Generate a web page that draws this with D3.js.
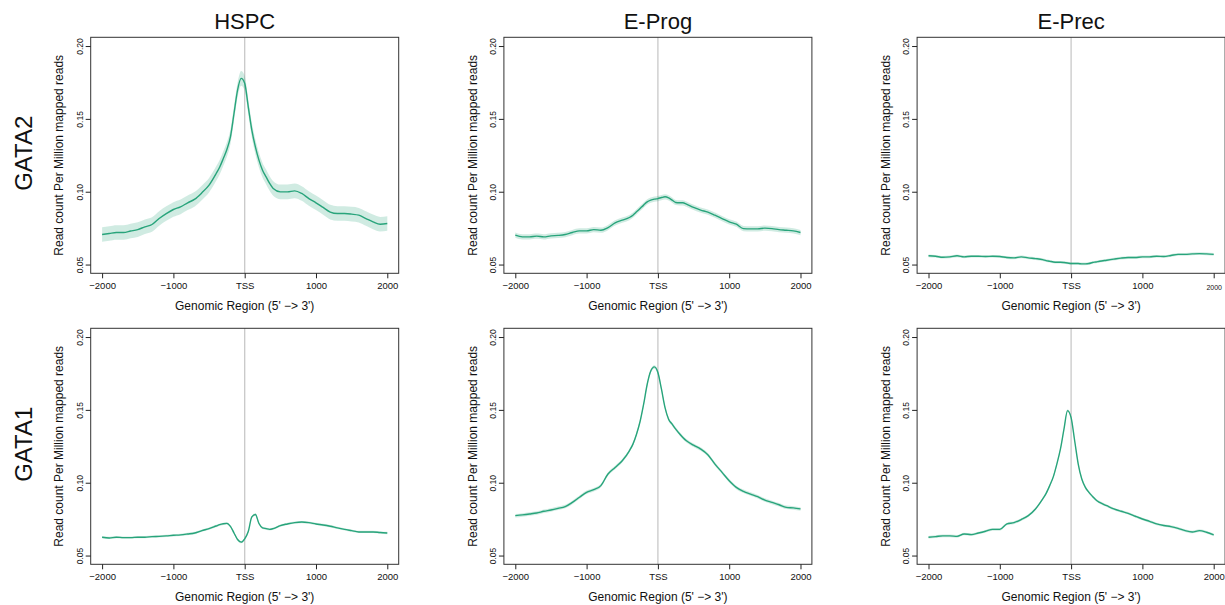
<!DOCTYPE html>
<html>
<head>
<meta charset="utf-8">
<script src="https://cdn.jsdelivr.net/npm/d3@7"></script>
<style>
	body { margin: 0; background: #fff; }
	text { font-family: "Liberation Sans", Arial, Helvetica, sans-serif; fill: #111; }
</style>
</head>
<body>
<svg width="1225" height="605"></svg>
<script>
// positions relative to the TSS (bp)
var positions = [-2000,-1900,-1800,-1700,-1600,-1500,-1400,-1300,-1200,-1100,-1000,-900,-800,-700,-600,-500,
	-400,-350,-300,-250,-200,-150,-100,-50,0,50,100,150,200,250,300,350,400,
	500,600,700,800,900,1000,1100,1200,1300,1400,1500,1600,1700,1800,1900,2000];

var cellTypes = ["HSPC", "E-Prog", "E-Prec"];
var factors = ["GATA2", "GATA1"];

// read count per million mapped reads
var hspcGata2 = [0.0706,0.0713,0.0720,0.0720,0.0730,0.0740,0.0759,0.0775,0.0816,0.0850,0.0878,0.0896,0.0924,0.0949,0.0993,0.1045,
	0.1125,0.1170,0.1228,0.1290,0.1377,0.1537,0.1698,0.1778,0.1744,0.1583,0.1423,0.1308,0.1217,0.1148,0.1102,0.1057,0.1022,
	0.0999,0.0999,0.1006,0.0988,0.0953,0.0924,0.0892,0.0860,0.0850,0.0850,0.0846,0.0839,0.0816,0.0793,0.0777,0.0782];
var eProgGata2 = [0.0702,0.0690,0.0690,0.0695,0.0690,0.0697,0.0700,0.0706,0.0720,0.0731,0.0731,0.0740,0.0736,0.0754,0.0786,0.0805,
	0.0823,0.0839,0.0862,0.0885,0.0908,0.0930,0.0942,0.0949,0.0953,0.0960,0.0965,0.0958,0.0942,0.0926,0.0924,0.0924,0.0915,
	0.0892,0.0874,0.0860,0.0839,0.0816,0.0793,0.0777,0.0747,0.0745,0.0745,0.0750,0.0747,0.0740,0.0736,0.0731,0.0720];
var ePrecGata2 = [0.0560,0.0557,0.0550,0.0553,0.0560,0.0553,0.0557,0.0557,0.0555,0.0557,0.0555,0.0548,0.0546,0.0553,0.0546,0.0541,
	0.0534,0.0527,0.0523,0.0518,0.0516,0.0516,0.0514,0.0511,0.0507,0.0507,0.0507,0.0505,0.0505,0.0507,0.0514,0.0518,0.0523,
	0.0530,0.0537,0.0544,0.0548,0.0548,0.0553,0.0553,0.0557,0.0555,0.0562,0.0570,0.0570,0.0573,0.0575,0.0573,0.0570];
var hspcGata1 = [0.0626,0.0621,0.0626,0.0623,0.0623,0.0626,0.0626,0.0630,0.0632,0.0635,0.0639,0.0642,0.0648,0.0655,0.0671,0.0685,
	0.0703,0.0712,0.0718,0.0721,0.0700,0.0655,0.0610,0.0592,0.0615,0.0665,0.0765,0.0782,0.0720,0.0690,0.0685,0.0680,0.0685,
	0.0706,0.0717,0.0726,0.0730,0.0726,0.0717,0.0710,0.0701,0.0690,0.0680,0.0671,0.0662,0.0662,0.0662,0.0658,0.0655];
var eProgGata1 = [0.0774,0.0779,0.0785,0.0792,0.0804,0.0813,0.0824,0.0836,0.0865,0.0900,0.0934,0.0952,0.0980,0.1060,0.1105,0.1151,
	0.1219,0.1265,0.1333,0.1420,0.1539,0.1676,0.1767,0.1795,0.1756,0.1642,0.1516,0.1436,0.1402,0.1368,0.1338,0.1311,0.1288,
	0.1258,0.1231,0.1192,0.1128,0.1071,0.1014,0.0968,0.0941,0.0922,0.0904,0.0881,0.0865,0.0849,0.0831,0.0827,0.0820];
var ePrecGata1 = [0.0626,0.0630,0.0635,0.0635,0.0632,0.0648,0.0644,0.0655,0.0667,0.0680,0.0680,0.0717,0.0726,0.0747,0.0774,0.0820,
	0.0888,0.0927,0.0980,0.1040,0.1128,0.1230,0.1368,0.1495,0.1447,0.1288,0.1128,0.1025,0.0968,0.0934,0.0906,0.0881,0.0865,
	0.0842,0.0820,0.0804,0.0790,0.0770,0.0751,0.0735,0.0717,0.0706,0.0699,0.0687,0.0671,0.0662,0.0671,0.0660,0.0642];

// standard error band (half width) per panel
var seGata2 = [0.0050, 0.0018, 0.0009];
var seGata1 = [0.0008, 0.0012, 0.0009];

var yTicks = [0.05, 0.10, 0.15, 0.20];
var xTicks = [-2000, -1000, 0, 1000, 2000];

var table = {
	GATA2: [hspcGata2, eProgGata2, ePrecGata2],
	GATA1: [hspcGata1, eProgGata1, ePrecGata1]
};
var seTable = { GATA2: seGata2, GATA1: seGata1 };

// layout
var marge = {left: 90.7, top: 37.3};
var colStep = 413.2, rowStep = 291;
var pw = 308, ph = 236;
var lineColor = "#28A47B";

var svg = d3.select("svg");

// R style axis range (4% padding)
var x = d3.scaleLinear().domain([-2160, 2160]).range([0, pw]);
var y = d3.scaleLinear().domain([0.044, 0.206]).range([ph, 0]);

factors.forEach(function(f, r) {
	cellTypes.forEach(function(c, ci) {
		var vals = table[f][ci];
		var se = seTable[f][ci];
		var data = positions.map(function(p, i) { return {pos: p, v: vals[i]}; });
		var left = marge.left + ci * colStep;
		var top = marge.top + r * rowStep;
		var g = svg.append("g").attr("transform", "translate(" + left + "," + top + ")");

		// TSS line
		g.append("line")
			.attr("x1", x(0)).attr("x2", x(0))
			.attr("y1", 0).attr("y2", ph)
			.attr("stroke", "#c8c8c8").attr("stroke-width", 1.3);

		var band = d3.area()
			.x(function(d) { return x(d.pos); })
			.y0(function(d) { return y(d.v - se); })
			.y1(function(d) { return y(d.v + se); })
			.curve(d3.curveMonotoneX);
		g.append("path").datum(data)
			.attr("d", band)
			.attr("fill", lineColor).attr("fill-opacity", 0.22);

		var line = d3.line()
			.x(function(d) { return x(d.pos); })
			.y(function(d) { return y(d.v); })
			.curve(d3.curveMonotoneX);
		g.append("path").datum(data)
			.attr("d", line)
			.attr("fill", "none")
			.attr("stroke", lineColor).attr("stroke-width", 1.4);

		// box
		g.append("rect")
			.attr("width", pw).attr("height", ph)
			.attr("fill", "none").attr("stroke", "#333").attr("stroke-width", 1);

		// y axis
		var ya = g.append("g").call(d3.axisLeft(y).tickValues(yTicks).tickSize(5).tickFormat(d3.format(".2f")));
		ya.select(".domain").remove();
		ya.selectAll(".tick line").attr("stroke", "#222");
		ya.selectAll(".tick text")
			.attr("x", null).attr("dy", null)
			.attr("text-anchor", "middle")
			.attr("transform", "translate(-8,0) rotate(-90)")
			.style("font-size", "8.5px").attr("fill", "#222");

		// x axis
		var xa = g.append("g").attr("transform", "translate(0," + ph + ")")
			.call(d3.axisBottom(x).tickValues(xTicks).tickSize(5).tickPadding(4)
				.tickFormat(function(d) { return d === 0 ? "TSS" : d3.format("d")(d); }));
		xa.select(".domain").remove();
		xa.selectAll(".tick line").attr("stroke", "#222");
		xa.selectAll(".tick text").style("font-size", "9.5px").attr("fill", "#222");
		if (r === 0 && ci === 2) {
			xa.selectAll(".tick text").filter(function(d) { return d === 2000; })
				.style("font-size", "7px").attr("dy", "1.1em");
		}

		// axis titles
		g.append("text")
			.attr("transform", "translate(-27.4," + (ph / 2) + ") rotate(-90)")
			.attr("text-anchor", "middle")
			.style("font-size", "12px")
			.text("Read count Per Million mapped reads");
		g.append("text")
			.attr("x", pw / 2).attr("y", ph + 36.5)
			.attr("text-anchor", "middle")
			.style("font-size", "12px")
			.text("Genomic Region (5' \u2212> 3')");

		if (r === 0) {
			g.append("text")
				.attr("x", x(0)).attr("y", 29.3 - top)
				.attr("text-anchor", "middle")
				.style("font-size", "22px")
				.text(c);
		}
		if (ci === 0) {
			g.append("text")
				.attr("transform", "translate(" + (31.7 - left) + "," + (ph / 2 - 2) + ") rotate(-90)")
				.attr("text-anchor", "middle")
				.style("font-size", "24px")
				.text(f);
		}
	});
});
</script>
</body>
</html>
